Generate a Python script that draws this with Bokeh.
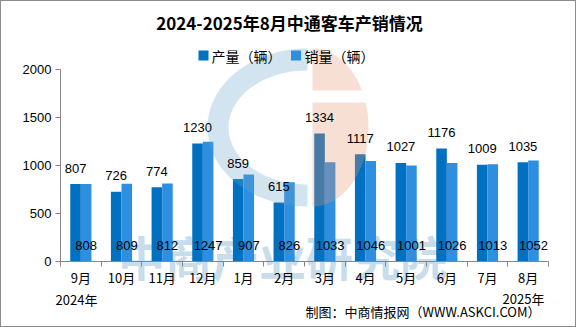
import numpy as np
from bokeh.plotting import figure
from bokeh.models import FixedTicker, Range1d
from bokeh.core.properties import value
from bokeh.embed import file_html
from bokeh.resources import INLINE

# ---------------- data ----------------
months = ["9月", "10月", "11月", "12月", "1月", "2月", "3月", "4月", "5月", "6月", "7月", "8月"]
production = [807, 726, 774, 1230, 859, 615, 1334, 1117, 1027, 1176, 1009, 1035]
sales = [808, 809, 812, 1247, 907, 826, 1033, 1046, 1001, 1026, 1013, 1052]
y_ticks = [0, 500, 1000, 1500, 2000]
series_names = ["产量（辆）", "销量（辆）"]
year_labels = ["2024年", "2025年"]
title_text = "2024-2025年8月中通客车产销情况"
source_text = "制图：中商情报网（WWW.ASKCI.COM）"
watermark_text = "中商产业研究院"

# ---------------- layout helpers ----------------
W, H = 576, 327
FL, FR, FB = 60, 548, 261          # y-axis column, x-axis end, x-axis row (px)
AX_TOP_PX = 69                      # pixel row of y=2000
n = len(months)
u_per_px_y = 2000 / (FB - AX_TOP_PX)
px_per_cat = (FR - FL) / n


def dx(px):
    return (px - FL) / px_per_cat


def dy(py):
    return (FB - py) * u_per_px_y


C_PROD = "#0070C0"
C_SALE = "#2E8FE0"
AXIS_C = "#868686"
CJK = "Noto Sans CJK SC"
NUM = "Liberation Sans"

p = figure(width=W, height=H, title=None,
           x_range=Range1d(dx(0), dx(W)), y_range=Range1d(dy(H), dy(0)),
           min_border_left=0, min_border_right=0,
           min_border_top=0, min_border_bottom=0,
           output_backend="svg", toolbar_location=None, tools="")
p.background_fill_color = None
p.border_fill_color = None
p.outline_line_color = None
p.styles = {"background-color": "white", "box-shadow": "inset 0 0 0 1px #8c8c8c"}
p.xgrid.visible = False
p.ygrid.visible = False

# y axis at x=0
p.yaxis.fixed_location = 0
p.yaxis.ticker = FixedTicker(ticks=y_ticks)
p.yaxis.bounds = (0, 2000)
p.yaxis.axis_line_color = AXIS_C
p.yaxis.major_tick_line_color = AXIS_C
p.yaxis.major_tick_in = 0
p.yaxis.major_tick_out = 5
p.yaxis.minor_tick_line_color = None
p.yaxis.major_label_text_font = NUM
p.yaxis.major_label_text_font_size = "13px"
p.yaxis.major_label_text_color = "black"
p.yaxis.major_label_standoff = 4

# x axis at y=0: labels at centres, ticks at boundaries
centres = [i + 0.5 for i in range(n)]
p.xaxis.fixed_location = 0
p.xaxis.bounds = (0, n)
p.xaxis.ticker = FixedTicker(ticks=centres, minor_ticks=list(range(n + 1)))
p.xaxis.major_label_overrides = {c: m for c, m in zip(centres, months)}
p.xaxis.axis_line_color = AXIS_C
p.xaxis.major_tick_in = 0
p.xaxis.major_tick_out = 0
p.xaxis.minor_tick_in = 0
p.xaxis.minor_tick_out = 5
p.xaxis.minor_tick_line_color = AXIS_C
p.xaxis.major_label_text_font = CJK
p.xaxis.major_label_text_font_size = "13px"
p.xaxis.major_label_text_color = "black"
p.xaxis.major_label_standoff = 1

# watermark text (behind bars)
p.text(x=[dx(282)], y=[dy(255)], text=[watermark_text], text_align="center",
       text_baseline="middle", text_font=value(CJK), text_font_size="47px",
       text_font_style="bold", text_color="#C8DDEC")

# bars
off = 0.13
bw = 0.26
x_prod = [c - off for c in centres]
x_sale = [c + off for c in centres]
p.vbar(x=x_prod, top=production, width=bw, fill_color=C_PROD, line_color=None)
p.vbar(x=x_sale, top=sales, width=bw, fill_color=C_SALE, line_color=None)

# logo watermark (decorative)
cyb = dy(127)
cxb = dx(307)
t = np.linspace(np.pi / 2, 3 * np.pi / 2, 80)
rxo, ryo = 100 / px_per_cat, 79 * u_per_px_y
rxi, ryi = 79 / px_per_cat, 57 * u_per_px_y
ring_x = np.concatenate([cxb + rxo * np.cos(t), (cxb + rxi * np.cos(t))[::-1]])
ring_y = np.concatenate([cyb + ryo * np.sin(t), (cyb + ryi * np.sin(t))[::-1]])
p.patch(ring_x, ring_y, fill_color="#69A5CA", fill_alpha=0.3, line_color=None)

cxo = dx(312)
rxr, ryr = 56 / px_per_cat, 79 * u_per_px_y
t_up = np.arcsin((127 - 90) / 79)
t_lo = np.arcsin((127 - 102) / 79)
tu = np.linspace(np.pi / 2, t_up, 40)
tl = np.linspace(t_lo, -np.pi / 2, 60)
up_x = np.concatenate([[cxo], cxo + rxr * np.cos(tu), [cxo]])
up_y = np.concatenate([[cyb + ryr], cyb + ryr * np.sin(tu), [cyb + ryr * np.sin(t_up)]])
lo_x = np.concatenate([[cxo], cxo + rxr * np.cos(tl), [cxo]])
lo_y = np.concatenate([[cyb + ryr * np.sin(t_lo)], cyb + ryr * np.sin(tl), [cyb - ryr]])
for xs, ys in ((up_x, up_y), (lo_x, lo_y)):
    p.patch(xs, ys, fill_color="#E8946E", fill_alpha=0.3, line_color=None)

# value labels
lab_off = 16 * u_per_px_y
p.text(x=x_prod, y=[v + lab_off for v in production], text=[str(v) for v in production],
       text_align="center", text_baseline="middle", text_font=value(NUM),
       text_font_size="13px", text_color="black")
p.text(x=x_sale, y=[lab_off] * n, text=[str(v) for v in sales],
       text_align="center", text_baseline="middle", text_font=value(NUM),
       text_font_size="13px", text_color="black")

# title
p.text(x=[dx(289)], y=[dy(22)], text=[title_text], text_align="center",
       text_baseline="middle", text_font=value(CJK), text_font_size="17px",
       text_font_style="bold", text_color="black")

# legend
p.scatter(x=[dx(203), dx(295.5)], y=[dy(55)] * 2, marker="square", size=10,
          fill_color=[C_PROD, C_SALE], line_color=None)
p.text(x=[dx(211), dx(304)], y=[dy(55)] * 2, text=series_names, text_align="left",
       text_baseline="middle", text_font=value(CJK), text_font_size="14px",
       text_color="black")

# year marks and source
p.text(x=[dx(76), dx(523)], y=[dy(299), dy(298)], text=year_labels, text_align="center",
       text_baseline="middle", text_font=value(CJK), text_font_size="13px",
       text_color="black")
p.text(x=[dx(540)], y=[dy(311)], text=[source_text], text_align="right",
       text_baseline="middle", text_font=value(CJK), text_font_size="13px",
       text_color="black")

open("out.html", "w").write(file_html(p, INLINE))
